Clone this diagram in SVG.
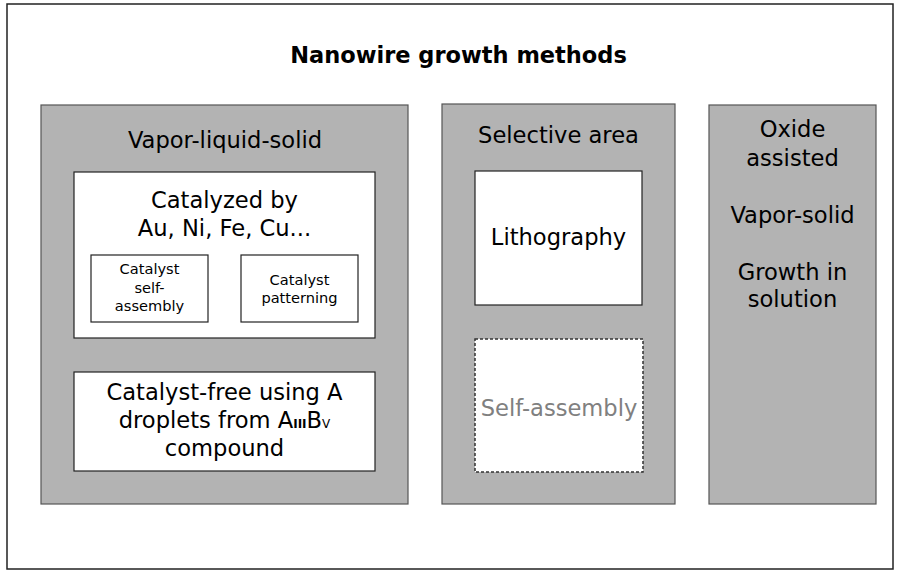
<svg xmlns="http://www.w3.org/2000/svg" width="901" height="574" viewBox="0 0 901 574">
<style>
text{font-family:"DejaVu Sans",Verdana,sans-serif;font-size:22.6px;fill:#000;text-anchor:middle}
.title{font-weight:bold;font-size:22.5px}
.small{font-size:14.6px}
.grey{fill:#b3b3b3;stroke:#555;stroke-width:1.2}
.white{fill:#fff;stroke:#222;stroke-width:1.2}
.dash{fill:#fff;stroke:#333;stroke-width:1.5;stroke-dasharray:3,2}
.faint{fill:#808080}
</style>
<rect x="7" y="4" width="886" height="565" fill="#fff" stroke="#222" stroke-width="1.5"/>
<text class="title" x="458.5" y="63">Nanowire growth methods</text>
<g id="vls">
<rect class="grey" x="41" y="105" width="367" height="399"/>
<text x="225" y="148">Vapor-liquid-solid</text>
</g>
<g id="catalyzed">
<rect class="white" x="74" y="172" width="301" height="166"/>
<text x="224.5" y="208">Catalyzed by</text>
<text x="224.5" y="236">Au, Ni, Fe, Cu...</text>
</g>
<g id="cat-self-assembly">
<rect class="white" x="91" y="255" width="117" height="67"/>
<text class="small" x="149.5" y="274">Catalyst</text>
<text class="small" x="149.5" y="292.5">self-</text>
<text class="small" x="149.5" y="311">assembly</text>
</g>
<g id="cat-patterning">
<rect class="white" x="241" y="255" width="117" height="67"/>
<text class="small" x="299.5" y="284.5">Catalyst</text>
<text class="small" x="299.5" y="303">patterning</text>
</g>
<g id="catalyst-free">
<rect class="white" x="74" y="372" width="301" height="99"/>
<text x="224.5" y="400">Catalyst-free using A</text>
<text x="224.5" y="428">droplets from A<tspan font-size="12" font-weight="bold">III</tspan><tspan>B</tspan><tspan font-size="12">V</tspan></text>
<text x="224.5" y="456">compound</text>
</g>
<g id="selective">
<rect class="grey" x="442" y="104" width="233" height="400"/>
<text x="558.5" y="143">Selective area</text>
</g>
<g id="lithography">
<rect class="white" x="475" y="171" width="167" height="134"/>
<text x="558.5" y="245">Lithography</text>
</g>
<g id="self-assembly">
<rect class="dash" x="475" y="339" width="168" height="133"/>
<text class="faint" x="559" y="416">Self-assembly</text>
</g>
<g id="other">
<rect class="grey" x="709" y="105" width="167" height="399"/>
<text x="792.5" y="137">Oxide</text>
<text x="792.5" y="166">assisted</text>
<text x="792.5" y="223">Vapor-solid</text>
<text x="792.5" y="280">Growth in</text>
<text x="792.5" y="307">solution</text>
</g>
<g id="connectors"/>
</svg>
